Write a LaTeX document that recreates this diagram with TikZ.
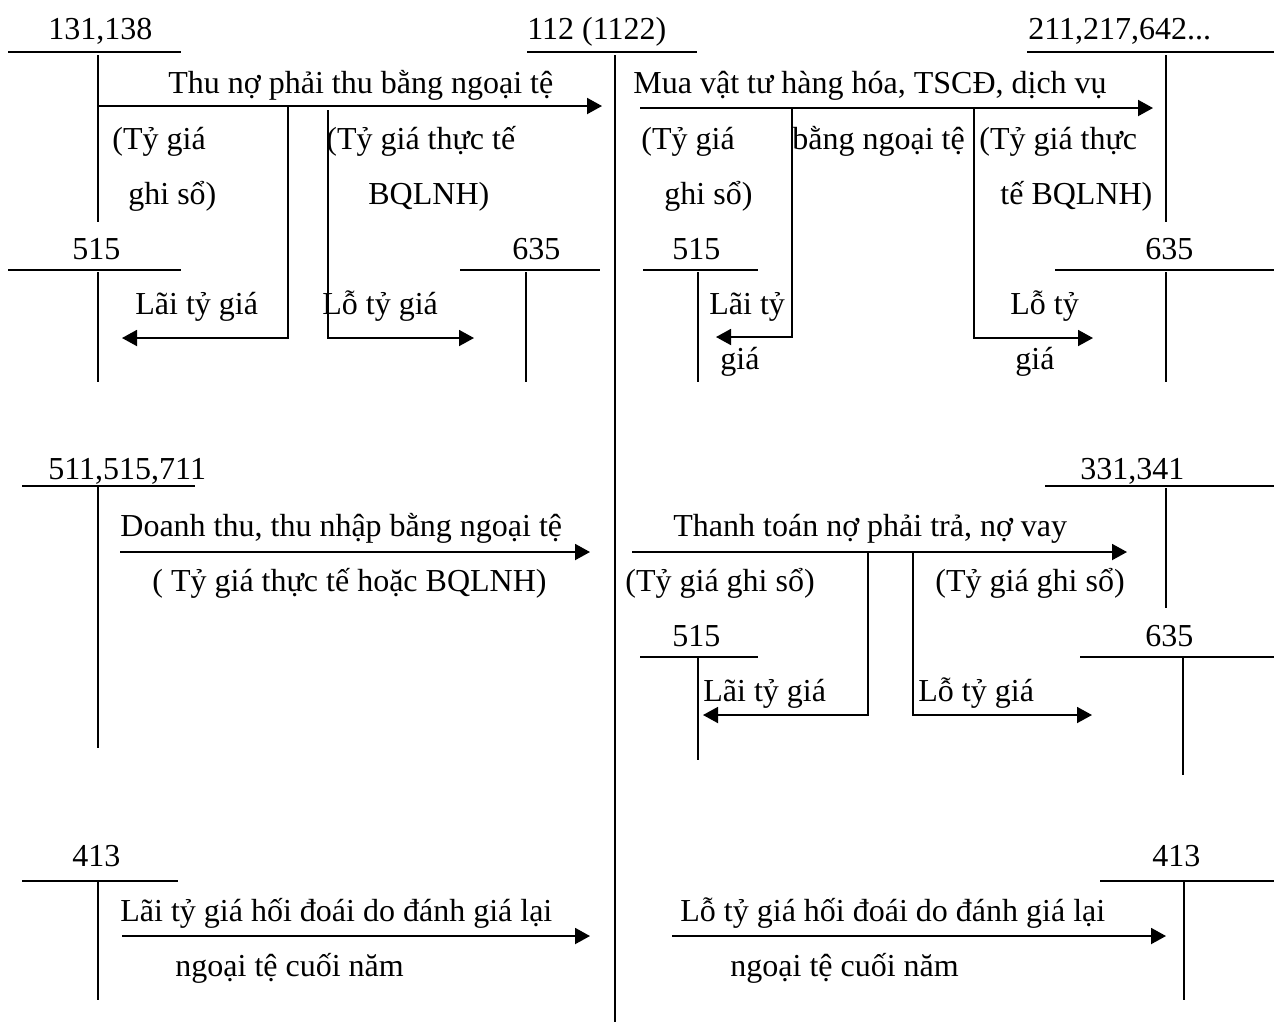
\documentclass[tikz,border=0pt]{standalone}
\usepackage{fontspec}
\setmainfont{Liberation Serif}
\usetikzlibrary{arrows.meta}
\begin{document}
\begin{tikzpicture}[x=0.5pt,y=-0.5pt,
  lbl/.style={anchor=base west,inner sep=0pt,font=\fontsize{16}{19}\selectfont},
  tline/.style={line width=1pt},
  vline/.style={line width=0.9pt},
  arr/.style={line width=1pt,-{Triangle[length=7.5pt,width=8pt]}},
  brn/.style={line width=0.9pt,-{Triangle[length=7.5pt,width=8pt]}}]
\useasboundingbox (0,0) rectangle (1274,1025);
% ---------- T accounts ----------
% 131,138
\node[lbl] (t131) at (48,39) {131,138};
\draw[tline] (8,52) -- (181,52);
\draw[vline] (98,55) -- (98,222);
% 112
\node[lbl] (t112) at (527,39) {112 (1122)};
\draw[tline] (527,52) -- (697,52);
\draw[vline] (615,55) -- (615,1022);
% 211
\node[lbl] (t211) at (1028,39) {211,217,642...};
\draw[tline] (1027,52) -- (1274,52);
\draw[vline] (1166,55) -- (1166,222);
% 515 top-left
\node[lbl] (t515a) at (72,259) {515};
\draw[tline] (8,270) -- (181,270);
\draw[vline] (98,272) -- (98,382);
% 635 top-left
\node[lbl] (t635a) at (512,259) {635};
\draw[tline] (460,270) -- (600,270);
\draw[vline] (526,272) -- (526,382);
% 515 top-right
\node[lbl] (t515b) at (672,259) {515};
\draw[tline] (643,270) -- (758,270);
\draw[vline] (698,272) -- (698,382);
% 635 top-right
\node[lbl] (t635b) at (1145,259) {635};
\draw[tline] (1055,270) -- (1274,270);
\draw[vline] (1166,272) -- (1166,382);
% 511
\node[lbl] (t511) at (48,479) {511,515,711};
\draw[tline] (22,486) -- (195,486);
\draw[vline] (98,486) -- (98,748);
% 331
\node[lbl] (t331) at (1080,479) {331,341};
\draw[tline] (1045,486) -- (1274,486);
\draw[vline] (1166,488) -- (1166,608);
% 515 mid
\node[lbl] (t515c) at (672,646) {515};
\draw[tline] (640,657) -- (758,657);
\draw[vline] (698,658) -- (698,760);
% 635 mid
\node[lbl] (t635c) at (1145,646) {635};
\draw[tline] (1080,657) -- (1274,657);
\draw[vline] (1183,658) -- (1183,775);
% 413 left
\node[lbl] (t413a) at (72,866) {413};
\draw[tline] (22,881) -- (178,881);
\draw[vline] (98,881) -- (98,1000);
% 413 right
\node[lbl] (t413b) at (1152,866) {413};
\draw[tline] (1100,881) -- (1274,881);
\draw[vline] (1184,881) -- (1184,1000);
% ---------- Block 1 ----------
\coordinate (a1s) at (98,106);
\coordinate (a1e) at (602,106);
\coordinate (a1l) at (288,106);
\coordinate (a1lb) at (288,338);
\coordinate (a1le) at (122,338);
\coordinate (a1r) at (328,110);
\coordinate (a1rb) at (328,338);
\coordinate (a1re) at (474,338);
\draw[arr] (a1s) -- (a1e);
\draw[brn] (a1l) -- (a1lb) -- (a1le);
\draw[brn] (a1r) -- (a1rb) -- (a1re);
\node[lbl] (x1) at (168,93) {Thu nợ phải thu bằng ngoại tệ};
\node[lbl] (x2) at (112,149) {(Tỷ giá};
\node[lbl] (x3) at (128,204) {ghi sổ)};
\node[lbl] (x4) at (326,149) {(Tỷ giá thực tế};
\node[lbl] (x5) at (368,204) {BQLNH)};
\node[lbl] (x6) at (135,314) {Lãi tỷ giá};
\node[lbl] (x7) at (322,314) {Lỗ tỷ giá};
% ---------- Block 2 ----------
\coordinate (b1s) at (640,108);
\coordinate (b1e) at (1153,108);
\coordinate (b1l) at (792,108);
\coordinate (b1lb) at (792,337);
\coordinate (b1le) at (716,337);
\coordinate (b1r) at (974,108);
\coordinate (b1rb) at (974,338);
\coordinate (b1re) at (1093,338);
\draw[arr] (b1s) -- (b1e);
\draw[brn] (b1l) -- (b1lb) -- (b1le);
\draw[brn] (b1r) -- (b1rb) -- (b1re);
\node[lbl] (y1) at (633,93) {Mua vật tư hàng hóa, TSCĐ, dịch vụ};
\node[lbl] (y2) at (641,149) {(Tỷ giá};
\node[lbl] (y3) at (664,204) {ghi sổ)};
\node[lbl] (y4) at (792,149) {bằng ngoại tệ};
\node[lbl] (y5) at (979,149) {(Tỷ giá thực};
\node[lbl] (y6) at (1000,204) {tế BQLNH)};
\node[lbl] (y7) at (709,314) {Lãi tỷ};
\node[lbl] (y8) at (720,369) {giá};
\node[lbl] (y9) at (1010,314) {Lỗ tỷ};
\node[lbl] (y10) at (1015,369) {giá};
% ---------- Block 3 ----------
\coordinate (c1s) at (120,552);
\coordinate (c1e) at (590,552);
\draw[arr] (c1s) -- (c1e);
\node[lbl] (z1) at (120,536) {Doanh thu, thu nhập bằng ngoại tệ};
\node[lbl] (z2) at (152,591) {( Tỷ giá thực tế hoặc BQLNH)};
% ---------- Block 4 ----------
\coordinate (d1s) at (632,552);
\coordinate (d1e) at (1127,552);
\coordinate (d1l) at (868,552);
\coordinate (d1lb) at (868,715);
\coordinate (d1le) at (703,715);
\coordinate (d1r) at (913,552);
\coordinate (d1rb) at (913,715);
\coordinate (d1re) at (1092,715);
\draw[arr] (d1s) -- (d1e);
\draw[brn] (d1l) -- (d1lb) -- (d1le);
\draw[brn] (d1r) -- (d1rb) -- (d1re);
\node[lbl] (w1) at (673,536) {Thanh toán nợ phải trả, nợ vay};
\node[lbl] (w2) at (625,591) {(Tỷ giá ghi sổ)};
\node[lbl] (w3) at (935,591) {(Tỷ giá ghi sổ)};
\node[lbl] (w4) at (703,701) {Lãi tỷ giá};
\node[lbl] (w5) at (918,701) {Lỗ tỷ giá};
% ---------- Block 5 ----------
\coordinate (e1s) at (122,936);
\coordinate (e1e) at (590,936);
\draw[arr] (e1s) -- (e1e);
\node[lbl] (v1) at (120,921) {Lãi tỷ giá hối đoái do đánh giá lại};
\node[lbl] (v2) at (175,976) {ngoại tệ cuối năm};
% ---------- Block 6 ----------
\coordinate (f1s) at (672,936);
\coordinate (f1e) at (1166,936);
\draw[arr] (f1s) -- (f1e);
\node[lbl] (u1) at (680,921) {Lỗ tỷ giá hối đoái do đánh giá lại};
\node[lbl] (u2) at (730,976) {ngoại tệ cuối năm};
\end{tikzpicture}
\end{document}
